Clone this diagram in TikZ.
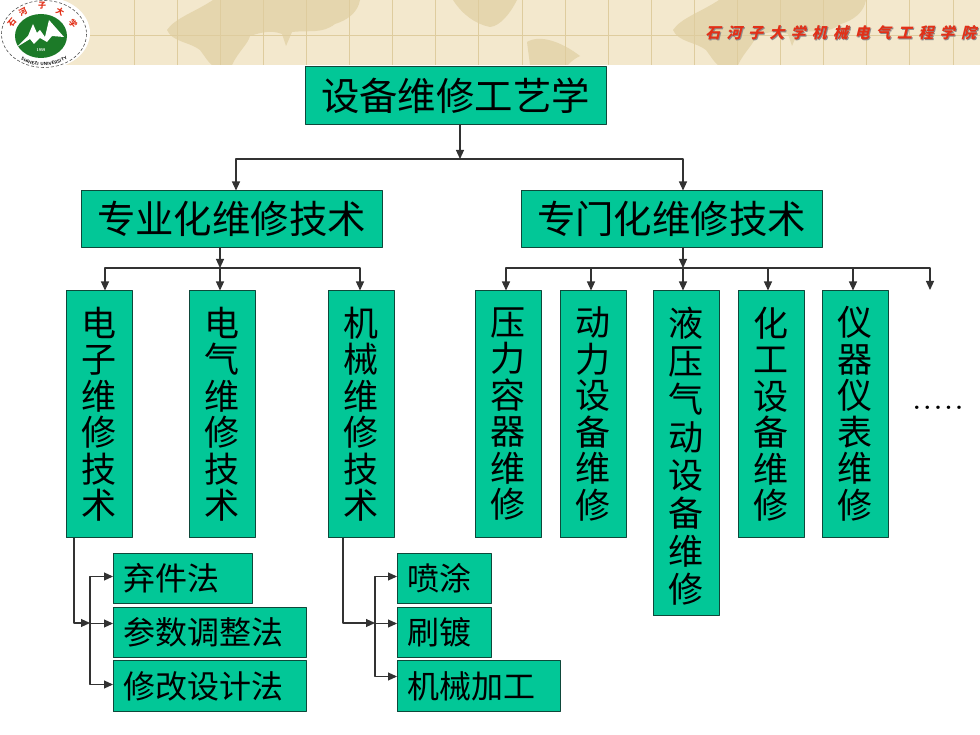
\documentclass[tikz,border=0pt]{standalone}
\usepackage{fontspec}
\usetikzlibrary{arrows.meta,decorations.text}
\newfontfamily\cjk{Noto Sans CJK SC}
\newfontfamily\hdfont[LetterSpace=42]{Noto Sans CJK SC}
\definecolor{boxgreen}{RGB}{2,199,151}
\definecolor{boxedge}{RGB}{14,72,58}
\definecolor{linegray}{RGB}{50,50,50}
\definecolor{band}{RGB}{243,232,205}
\definecolor{landc}{RGB}{229,214,174}
\definecolor{gridc}{RGB}{222,204,158}
\definecolor{logogreen}{RGB}{28,122,40}
\definecolor{sealred}{RGB}{226,48,24}
\tikzset{
  box/.style={draw=boxedge,fill=boxgreen,line width=1pt,outer sep=0pt,inner sep=0pt,text=black},
  bigbox/.style={box,minimum width=301pt,font=\cjk\fontsize{38.4}{40}\selectfont},
  vbox/.style={box,minimum width=66pt,anchor=north,align=center,font=\cjk\fontsize{35}{36.5}\selectfont},
  lowbox/.style={box,anchor=north west,inner xsep=10pt,align=left,font=\cjk\fontsize{32}{34}\selectfont},
  link/.style={draw=linegray,line width=1.1pt,-{Stealth[length=9pt,width=8pt,inset=0pt]}},
}
\begin{document}
\begin{tikzpicture}[x=1pt,y=-1pt,line join=round]
\useasboundingbox (0,0) rectangle (980,735);
% header band
\begin{scope}
\clip (0,0) rectangle (980,65);
\fill[band] (60,0) rectangle (980,65);
\foreach \dx in {0,506}{
  \fill[landc,xshift=\dx pt] (213,0) .. controls (195,12) and (175,18) .. (167,30)
    .. controls (172,42) and (190,42) .. (200,50) .. controls (206,58) and (208,62) .. (212,65)
    -- (232,65) .. controls (238,52) and (248,44) .. (250,36) .. controls (262,32) and (272,30) .. (282,34)
    -- (286,46) -- (292,32) .. controls (310,30) and (322,34) .. (335,24)
    .. controls (348,20) and (358,12) .. (360,0) -- cycle;
}
\fill[landc] (453,0) .. controls (462,14) and (475,24) .. (490,27) .. controls (500,26) and (510,14) .. (517,0) -- cycle;
\fill[landc] (527,42) .. controls (540,34) and (562,42) .. (580,56) .. controls (572,60) and (570,63) .. (568,65) -- (530,65) -- cycle;
\foreach \k in {0,...,19}
  \draw[gridc,line width=0.8pt] ({134+43.1*\k},0) -- ({134+43.1*\k},65);
\draw[gridc,line width=0.8pt] (88,35) -- (980,35);
\end{scope}
% school badge
\fill[white] (44,33) ellipse [x radius=46,y radius=36];
\draw[black!70,line width=0.6pt,densely dashed] (44,34) ellipse [x radius=42.5,y radius=33.5];
\fill[logogreen] (41,36) ellipse [x radius=26,y radius=22];
\fill[white] (17,47) -- (28,36) -- (33,24) -- (37,33) -- (40,30) -- (45,37) -- (49,20) -- (64,37) -- (52,36) -- (47,42) -- (40,38) -- (34,44) -- (30,39) -- cycle;
\foreach \ch/\px/\py/\rot in {石/12/23/50,河/23/12/28,子/42/6/0,大/60/12/-28,学/73/24/-50}
  \node[name=seal\px,text=sealred,font=\cjk\bfseries\fontsize{8}{8}\selectfont,rotate=\rot] at (\px,\py) {\ch};
\node[text=white,font=\sffamily\bfseries\fontsize{4}{4}\selectfont] (sealyear) at (41,50) {1959};
\path[decorate,decoration={text along path,text align=center,
  text={|\sffamily\bfseries\fontsize{4.5}{5}\selectfont|SHIHEZI UNIVERSITY}}]
  (13,53) .. controls (26,70) and (62,70) .. (75,51);
% college name
\node[text=black!45,font=\hdfont\bfseries\fontsize{15}{15}\selectfont,xslant=0.25,anchor=east] (collegeback) at (982,34) {石河子大学机械电气工程学院};
\node[text=sealred,font=\hdfont\bfseries\fontsize{15}{15}\selectfont,xslant=0.25,anchor=east] (college) at (981,33) {石河子大学机械电气工程学院};
% boxes
\node[bigbox,minimum height=58pt] (title) at (455.5,95.5) {设备维修工艺学};
\node[bigbox,minimum height=57pt] (zhuanye) at (231.5,219) {专业化维修技术};
\node[bigbox,minimum height=57pt] (zhuanmen) at (671.5,219) {专门化维修技术};
\node[vbox,minimum height=247pt] (dianzi) at (99,290.5) {电\\子\\维\\修\\技\\术};
\node[vbox,minimum height=247pt] (dianqi) at (222,290.5) {电\\气\\维\\修\\技\\术};
\node[vbox,minimum height=247pt] (jixie) at (361,290.5) {机\\械\\维\\修\\技\\术};
\node[vbox,minimum height=247pt] (yali) at (508,290.5) {压\\力\\容\\器\\维\\修};
\node[vbox,minimum height=247pt] (dongli) at (593,290.5) {动\\力\\设\\备\\维\\修};
\node[vbox,minimum height=325pt,font=\cjk\fontsize{35}{37.9}\selectfont] (yeya) at (686,290.5) {液\rule{0pt}{36pt}\\压\\气\\动\\设\\备\\维\\修};
\node[vbox,minimum height=247pt] (huagong) at (771,290.5) {化\\工\\设\\备\\维\\修};
\node[vbox,minimum height=247pt] (yiqi) at (855,290.5) {仪\\器\\仪\\表\\维\\修};
\node[font=\rmfamily\bfseries\fontsize{24}{24}\selectfont] (more) at (938,408) {.\hspace{3pt}.\hspace{3pt}.\hspace{3pt}.\hspace{3pt}.};
\node[lowbox,minimum height=50pt,text width=119pt] (qijian) at (113,553.5) {弃件法};
\node[lowbox,minimum height=50pt,text width=173pt] (canshu) at (113,607.5) {参数调整法};
\node[lowbox,minimum height=51pt,text width=173pt] (xiugai) at (113,660.5) {修改设计法};
\node[lowbox,minimum height=50pt,text width=74pt] (pentu) at (397,553.5) {喷涂};
\node[lowbox,minimum height=50pt,text width=74pt] (shuadu) at (397,607.5) {刷镀};
\node[lowbox,minimum height=51pt,text width=143pt] (jiagong) at (397,660.5) {机械加工};
% connectors
\coordinate (topbus) at (460,159);
\coordinate (leftbus) at (220,268);
\coordinate (rightbus) at (683,268);
\coordinate (moreend) at (930,290);
\coordinate (lowleft) at (90,623);
\coordinate (lowright) at (375,623);
\draw[link] (title.south -| topbus) -- (topbus);
\draw[link] (topbus) -| ([xshift=4.5pt]zhuanye.north);
\draw[link] (topbus) -| ([xshift=11.5pt]zhuanmen.north);
\draw[link] (zhuanye.south -| leftbus) -- (leftbus);
\draw[link] (zhuanmen.south -| rightbus) -- (rightbus);
\foreach \n/\dx in {dianzi/6,dianqi/-2,jixie/-1}
  \draw[link] (leftbus) -| ([xshift=\dx pt]\n.north);
\foreach \n/\dx in {yali/-2,dongli/-2,yeya/-3,huagong/-3,yiqi/-2}
  \draw[link] (rightbus) -| ([xshift=\dx pt]\n.north);
\draw[link] (rightbus) -| (moreend);
\draw[link] ([xshift=-25pt]dianzi.south) |- (lowleft);
\draw[link] ([xshift=-18pt]jixie.south) |- (lowright);
\foreach \n/\dy in {qijian/2,canshu/9,xiugai/1.5}
  \draw[link] (lowleft) |- ([yshift=\dy pt]\n.west);
\foreach \n/\dy in {pentu/2,shuadu/9,jiagong/9.5}
  \draw[link] (lowright) |- ([yshift=\dy pt]\n.west);
\end{tikzpicture}
\end{document}
